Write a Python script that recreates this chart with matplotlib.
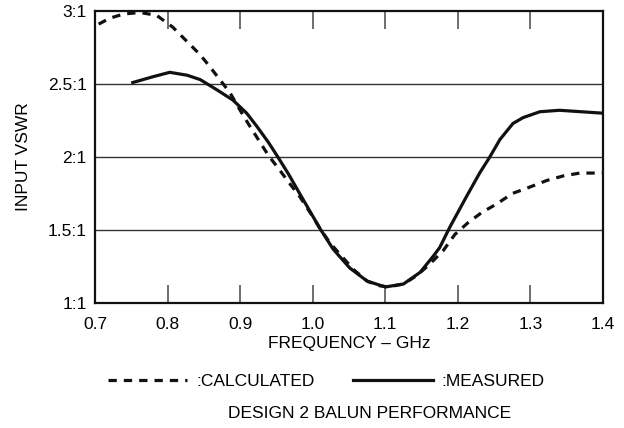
import matplotlib
matplotlib.use("Agg")
import matplotlib.pyplot as plt

# frequency (GHz) and VSWR values
calc_freq = [0.705, 0.72, 0.74, 0.762, 0.785, 0.807, 0.827, 0.845, 0.858, 0.872,
             0.886, 0.900, 0.911, 0.925, 0.939, 0.953, 0.968, 0.982, 0.999, 1.010,
             1.024, 1.040, 1.056, 1.075, 1.090, 1.104, 1.125, 1.144, 1.162, 1.180,
             1.196, 1.214, 1.233, 1.254, 1.275, 1.297, 1.323, 1.345, 1.368, 1.400]
calc_vswr = [2.91, 2.95, 2.98, 2.99, 2.97, 2.89, 2.79, 2.70, 2.62, 2.53,
             2.44, 2.32, 2.23, 2.12, 2.01, 1.92, 1.82, 1.73, 1.60, 1.51,
             1.41, 1.32, 1.23, 1.15, 1.12, 1.11, 1.13, 1.19, 1.27, 1.36,
             1.47, 1.55, 1.62, 1.68, 1.75, 1.79, 1.84, 1.87, 1.89, 1.89]

meas_freq = [0.752, 0.780, 0.803, 0.827, 0.845, 0.868, 0.890, 0.909, 0.923, 0.939,
             0.952, 0.967, 0.982, 0.996, 1.010, 1.028, 1.051, 1.075, 1.100, 1.125,
             1.148, 1.166, 1.175, 1.189, 1.212, 1.230, 1.244, 1.258, 1.276, 1.290,
             1.313, 1.340, 1.370, 1.400]
meas_vswr = [2.51, 2.55, 2.58, 2.56, 2.53, 2.46, 2.39, 2.30, 2.21, 2.10,
             2.00, 1.88, 1.75, 1.63, 1.51, 1.37, 1.24, 1.15, 1.11, 1.13,
             1.21, 1.32, 1.38, 1.52, 1.73, 1.89, 2.00, 2.12, 2.23, 2.27,
             2.31, 2.32, 2.31, 2.30]

x_ticks = [0.7, 0.8, 0.9, 1.0, 1.1, 1.2, 1.3, 1.4]
x_labels = ["0.7", "0.8", "0.9", "1.0", "1.1", "1.2", "1.3", "1.4"]
y_ticks = [1.0, 1.5, 2.0, 2.5, 3.0]
y_labels = ["1:1", "1.5:1", "2:1", "2.5:1", "3:1"]

plt.rcParams['font.family'] = ['Liberation Sans', 'DejaVu Sans']
fs = 12.5

fig = plt.figure(figsize=(6.24, 4.28), dpi=100)
ax = fig.add_axes([95 / 624, 125 / 428, 508 / 624, 292 / 428])

ax.plot(calc_freq, calc_vswr, color='#111111', linewidth=2.3,
        linestyle=(0, (2.6, 2.2)), label=':CALCULATED')
ax.plot(meas_freq, meas_vswr, color='#111111', linewidth=2.3,
        label=':MEASURED')

ax.set_xlim(0.7, 1.4)
ax.set_ylim(1.0, 3.0)

for v in y_ticks[1:-1]:
    ax.axhline(v, color='#333333', linewidth=1.0, zorder=0)

ax.set_xticks(x_ticks)
ax.set_xticklabels(x_labels, fontsize=fs)
ax.set_yticks(y_ticks)
ax.set_yticklabels(y_labels, fontsize=fs)
ax.tick_params(axis='x', direction='in', length=13, width=1.2, color='#555555',
               top=True, pad=10)
ax.tick_params(axis='y', length=0, pad=6)

for s in ax.spines.values():
    s.set_linewidth(1.6)
    s.set_color('#111111')

ax.set_xlabel('FREQUENCY – GHz', fontsize=fs, labelpad=3)
ax.set_ylabel('INPUT VSWR', fontsize=fs, labelpad=12)

fig.legend(loc='center', bbox_to_anchor=(326 / 624, 1 - 381 / 428), ncol=2,
           frameon=False, fontsize=fs, handlelength=4.6, handletextpad=0.5,
           columnspacing=2.2, borderaxespad=0)

fig.text(370 / 624, 1 - 413 / 428, 'DESIGN 2 BALUN PERFORMANCE',
         ha='center', va='center', fontsize=fs)

fig.savefig('out.png', dpi=100)
